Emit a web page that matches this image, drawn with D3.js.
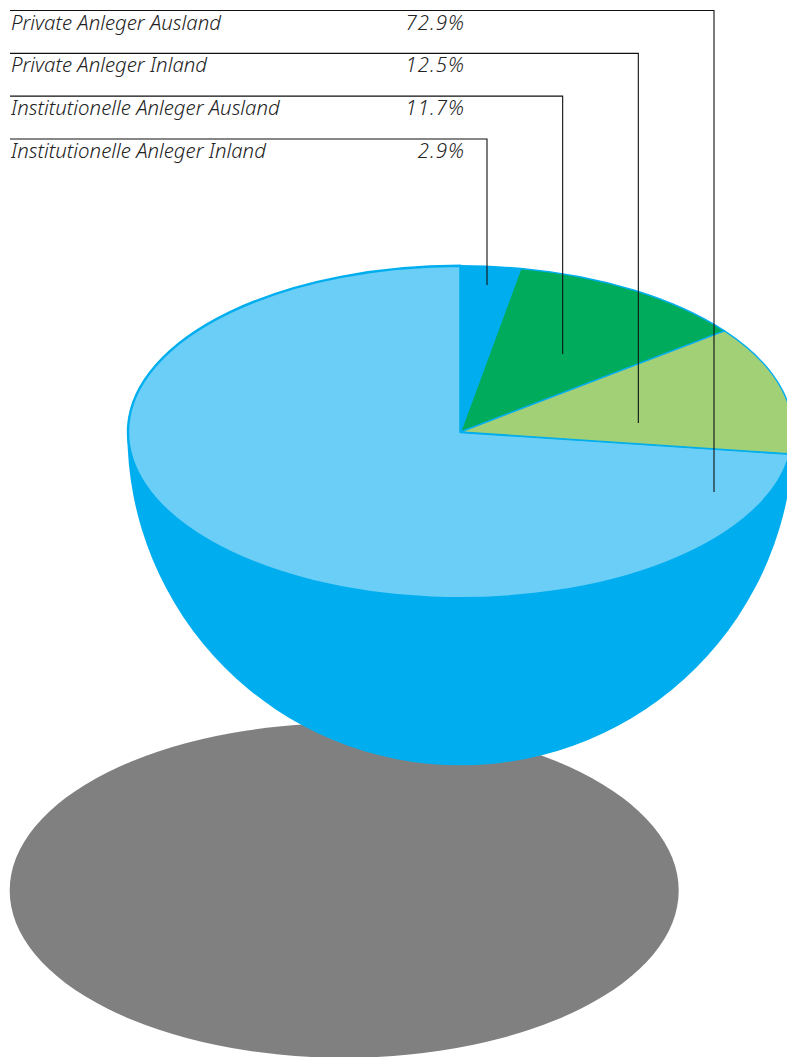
<!DOCTYPE html>
<html><head><meta charset="utf-8">
<script src="https://cdn.jsdelivr.net/npm/d3@7"></script>
<style>html,body{margin:0;padding:0;background:#fff;overflow:hidden}svg{display:block}</style>
</head><body><div id="c"></div>
<script>
const categories = ["Institutionelle Anleger Inland","Institutionelle Anleger Ausland","Private Anleger Inland","Private Anleger Ausland"];
const values = [2.9, 11.7, 12.5, 72.9];
const valueLabels = ["2.9%","11.7%","12.5%","72.9%"];
const colors = ["#00AEEF","#00AB5C","#A2D076","#6ACEF6"];
const rowOrder = ["Private Anleger Ausland","Private Anleger Inland","Institutionelle Anleger Ausland","Institutionelle Anleger Inland"];

const W=787,H=1057,cx=460.5,cy=432,R=332.5,squash=0.5;
const svg=d3.select("#c").append("svg").attr("width",W).attr("height",H);

const pie=d3.pie().sort(null).value(d=>d)(values);
const arc=d3.arc().innerRadius(0).outerRadius(R);

// shadow
svg.append("path").attr("d",d3.arc().innerRadius(0).outerRadius(334.5)({startAngle:0,endAngle:2*Math.PI}))
  .attr("transform",`translate(344.2,890.5) scale(1,${squash})`)
  .attr("fill","#808080");
// bowl
svg.append("path").attr("d",d3.arc().innerRadius(0).outerRadius(333.2)({startAngle:Math.PI/2,endAngle:3*Math.PI/2}))
  .attr("transform",`translate(${cx},${cy})`)
  .attr("fill","#00AEEF");
// top face
const face=svg.append("g").attr("transform",`translate(${cx},${cy}) scale(1,${squash})`);
face.selectAll("path").data(pie).join("path")
  .attr("d",arc)
  .attr("fill",(d,i)=>colors[i])
  .attr("stroke","#00AEEF")
  .attr("stroke-width",(d,i)=>i===3?2.4:1.4)
  .attr("stroke-linejoin","round")
  .attr("vector-effect","non-scaling-stroke");
face.selectAll("path").filter((d,i)=>i===3).lower();

// leader lines & labels
const rowY=d3.scalePoint().domain(rowOrder).range([10.5,139]);
const endX=d3.scalePoint().domain(rowOrder).range([714,487]);
const endY=d3.scalePoint().domain(rowOrder).range([492,285]);
const leaders=svg.append("g");
rowOrder.forEach(name=>{
  const i=categories.indexOf(name),y=rowY(name);
  leaders.append("path")
    .attr("d",d3.line()([[10,y],[endX(name),y],[endX(name),endY(name)]]))
    .attr("fill","none").attr("stroke","#111").attr("stroke-width",1.1);
  const t=leaders.append("g").attr("font-family","'Noto Sans',sans-serif").attr("font-style","italic")
    .attr("font-weight",300).attr("font-size",20.4).attr("fill","#222");
  t.append("text").attr("x",11).attr("y",y+19).text(name);
  t.append("text").attr("x",465).attr("y",y+19).attr("text-anchor","end").attr("letter-spacing",1).text(valueLabels[i]);
});
</script></body></html>
